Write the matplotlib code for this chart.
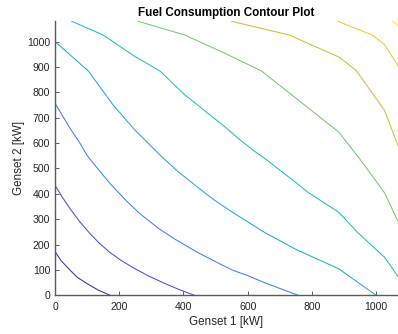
import matplotlib

matplotlib.use('Agg')  # no display needed
import matplotlib.pyplot as plt

# contour lines, lowest fuel level first
line1_x = [0, 20, 47, 70, 99, 135, 172]
line1_y = [172, 135, 99, 70, 47, 20, 0]
line2_x = [0, 23, 46, 77, 109, 139, 170, 204, 243, 290, 343, 386, 434]
line2_y = [434, 386, 343, 290, 243, 204, 170, 139, 109, 77, 46, 23, 0]
line3_x = [0, 47, 78, 99, 124, 171, 220, 264, 293, 322, 375, 441, 513, 553, 599, 658, 757]
line3_y = [757, 658, 599, 553, 513, 441, 375, 322, 293, 264, 220, 171, 124, 99, 78, 47, 0]
line4_x = [0, 104, 181, 249, 327, 378, 435, 493, 553, 651, 750, 884, 1000]
line4_y = [1000, 884, 750, 651, 553, 493, 435, 378, 327, 249, 181, 104, 0]
line5_x = [52, 150, 249, 327, 404, 451, 529, 572, 617, 664, 743, 790, 884, 941, 1026, 1080]
line5_y = [1080, 1026, 941, 884, 790, 743, 664, 617, 572, 529, 451, 404, 327, 249, 150, 52]
line6_x = [259, 404, 529, 643, 884, 954, 1026, 1080]
line6_y = [1080, 1026, 954, 884, 643, 529, 404, 259]
line7_x = [550, 729, 886, 938, 1026, 1080]
line7_y = [1080, 1026, 938, 886, 729, 550]
line8_x = [881, 988, 1026, 1080]
line8_y = [1080, 1026, 988, 881]
line9_x = [1052, 1080]
line9_y = [1080, 1052]

# parula-like colours, one per level
line_colors = ['#3e2b9c', '#4a4ce4', '#3b80f4', '#23a5e4', '#1fbfbd',
               '#6fcd6d', '#cbbf35', '#f6c43a', '#f6ee22']

xs_all = [line1_x, line2_x, line3_x, line4_x, line5_x, line6_x, line7_x, line8_x, line9_x]
ys_all = [line1_y, line2_y, line3_y, line4_y, line5_y, line6_y, line7_y, line8_y, line9_y]

plt.rcParams['font.family'] = ['Liberation Sans', 'DejaVu Sans']

fig = plt.figure(figsize=(3.98, 3.34), dpi=100)
ax = fig.add_axes([0.1382, 0.1159, 0.8618, 0.8203])

for xs, ys, c in zip(xs_all, ys_all, line_colors):
    ax.plot(xs, ys, color=c, lw=0.75)

ax.set_xlim(0, 1068)
ax.set_ylim(0, 1080)
ax.set_xticks(range(0, 1001, 200))
ax.set_yticks(range(0, 1001, 100))

ax.spines['top'].set_visible(False)
ax.spines['right'].set_visible(False)
for s in ['left', 'bottom']:
    ax.spines[s].set_color('#5a5a5a')
    ax.spines[s].set_linewidth(1.0)
ax.tick_params(direction='in', length=3, width=0.7, color='#5a5a5a',
               labelcolor='#262626', labelsize=7.6)
ax.tick_params(axis='x', pad=4.5)
ax.tick_params(axis='y', pad=3.5)

ax.set_xlabel('Genset 1 [kW]', fontsize=8.4, color='#262626', labelpad=3.5)
ax.set_ylabel('Genset 2 [kW]', fontsize=8.4, color='#262626', labelpad=1.5)
ax.set_title('Fuel Consumption Contour Plot', fontsize=8.4, fontweight='bold', pad=4)

fig.savefig('out.png', dpi=100)
